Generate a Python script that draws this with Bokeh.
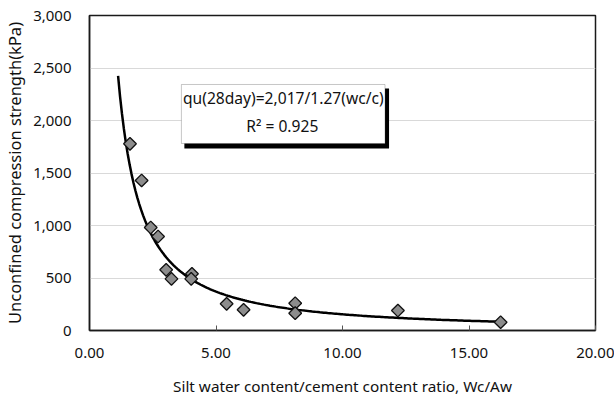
import numpy as np
from bokeh.plotting import figure
from bokeh.models import BoxAnnotation, Label, Range1d, FixedTicker, NumeralTickFormatter
from bokeh.embed import file_html
from bokeh.resources import INLINE

# ---- data ----
wc_ratio = [1.60, 2.06, 2.42, 2.71, 3.03, 3.24, 4.05, 4.02, 5.42, 6.09, 8.13, 8.13, 12.19, 16.25]
qu_kpa = [1778, 1429, 981, 895, 578, 492, 540, 492, 254, 197, 260, 165, 190, 79]
x_ticks = [0, 5, 10, 15, 20]
y_ticks = [0, 500, 1000, 1500, 2000, 2500, 3000]
eq_text = "qu(28day)=2,017/1.27(wc/c)"
r2_text = "R\u00b2 = 0.925"
trend_start = 1.13

FONT = "Noto Sans"

# power-law trendline fitted to the data (as the spreadsheet trendline)
b, lna = np.polyfit(np.log(wc_ratio), np.log(qu_kpa), 1)
tx = np.linspace(trend_start, max(wc_ratio), 200)
ty = np.exp(lna) * tx ** b

p = figure(width=614, height=403, output_backend="svg", toolbar_location=None,
           x_range=Range1d(0, 20), y_range=Range1d(0, 3000),
           min_border_left=83, min_border_right=19, min_border_top=15, min_border_bottom=73)
p.background_fill_color = "white"
p.border_fill_color = "white"
p.outline_line_color = "#1a1a1a"
p.outline_line_width = 1.5

p.xgrid.grid_line_color = None
p.ygrid.grid_line_color = "#d9d9d9"
p.ygrid.grid_line_width = 1

p.xaxis.ticker = FixedTicker(ticks=x_ticks)
p.yaxis.ticker = FixedTicker(ticks=y_ticks)
p.xaxis.formatter = NumeralTickFormatter(format="0.00")
p.yaxis.formatter = NumeralTickFormatter(format="0,0")

for ax in (p.xaxis[0], p.yaxis[0]):
    ax.axis_line_color = "#1a1a1a"
    ax.axis_line_width = 1.5
    ax.minor_tick_line_color = None
    ax.major_label_text_font = FONT
    ax.major_label_text_font_size = "15px"
    ax.major_label_text_color = "#111111"
    ax.axis_label_text_font = FONT
    ax.axis_label_text_font_style = "normal"
    ax.axis_label_text_color = "#111111"

p.xaxis.axis_label_text_font_size = "15.3px"
p.yaxis.axis_label_text_font_size = "16.5px"

p.xaxis.major_tick_in = 5
p.xaxis.major_tick_out = 0
p.xaxis.major_tick_line_color = "#555555"
p.xaxis.major_label_standoff = 17
p.xaxis.axis_label_standoff = 15
p.xaxis.axis_label = "Silt water content/cement content ratio, Wc/Aw"

p.yaxis.major_tick_line_color = None
p.yaxis.major_label_standoff = 12
p.yaxis.axis_label_standoff = 4
p.yaxis.axis_label = "Unconfined compression strength(kPa)"

# trendline
p.line(tx, ty, line_color="black", line_width=2.5)

# data markers
p.scatter(wc_ratio, qu_kpa, marker="square", angle=np.pi / 4, size=9,
          fill_color="#8c8c8c", line_color="#111111", line_width=1.3)

# equation box with shadow
p.add_layout(BoxAnnotation(left=3.75, right=11.84, top=2305, bottom=1733,
                           fill_color="black", fill_alpha=1, line_color=None))
p.add_layout(BoxAnnotation(left=3.633, right=11.68, top=2343, bottom=1781,
                           fill_color="white", fill_alpha=1, line_color="#444444", line_width=1))
p.add_layout(Label(x=7.66, y=2219, text=eq_text, text_align="center", text_baseline="middle",
                   text_font=FONT, text_font_size="15.6px", text_color="#111111"))
p.add_layout(Label(x=7.62, y=1952, text=r2_text, text_align="center", text_baseline="middle",
                   text_font=FONT, text_font_size="15.6px", text_color="#111111"))

open("out.html", "w").write(file_html(p, INLINE))
